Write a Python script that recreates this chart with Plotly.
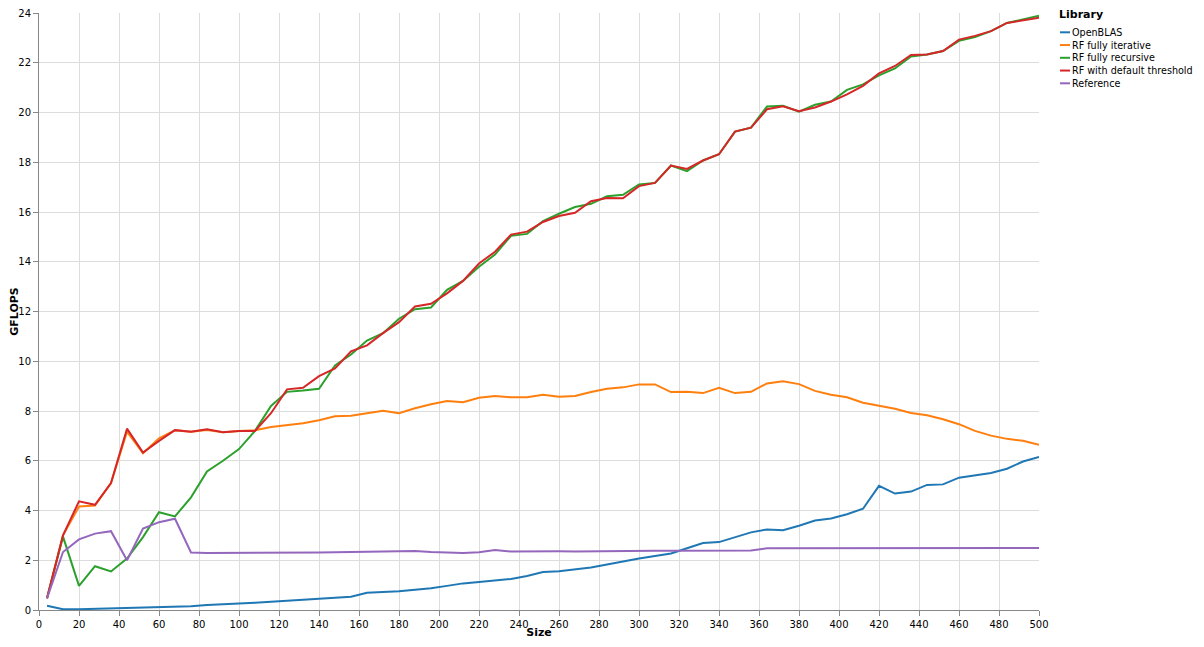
import plotly.graph_objects as go

# matrix sizes (x axis)
sizes = list(range(4, 501, 8))

openblas = [0.17, 0.03, 0.03, 0.05, 0.06, 0.08, 0.10, 0.11, 0.13, 0.15, 0.20, 0.22, 0.25,
            0.29, 0.33, 0.37, 0.40, 0.44, 0.48, 0.53, 0.69, 0.71, 0.75, 0.81, 0.87, 0.97,
            1.07, 1.13, 1.20, 1.25, 1.37, 1.53, 1.56, 1.64, 1.71, 1.83, 1.96, 2.07, 2.17,
            2.27, 2.48, 2.69, 2.73, 2.92, 3.12, 3.24, 3.21, 3.39, 3.60, 3.68, 3.85, 4.07,
            4.99, 4.68, 4.76, 5.03, 5.05, 5.32, 5.41, 5.51, 5.68, 5.97, 6.15]

rf_iterative = [0.47, 3.00, 4.16, 4.20, 5.10, 7.17, 6.30, 6.90, 7.23, 7.17, 7.24, 7.15, 7.20,
                7.23, 7.36, 7.44, 7.51, 7.63, 7.79, 7.81, 7.91, 8.01, 7.91, 8.11, 8.27, 8.40,
                8.35, 8.53, 8.60, 8.55, 8.55, 8.65, 8.57, 8.60, 8.76, 8.89, 8.95, 9.07, 9.07,
                8.76, 8.77, 8.72, 8.93, 8.72, 8.77, 9.11, 9.20, 9.08, 8.81, 8.65, 8.55, 8.33,
                8.21, 8.09, 7.92, 7.83, 7.67, 7.47, 7.20, 7.01, 6.88, 6.80, 6.64]

rf_recursive = [0.47, 2.95, 0.97, 1.76, 1.55, 2.07, 2.93, 3.93, 3.76, 4.53, 5.57, 6.00, 6.47,
                7.20, 8.20, 8.77, 8.82, 8.89, 9.83, 10.27, 10.83, 11.13, 11.71, 12.09, 12.16,
                12.87, 13.23, 13.80, 14.29, 15.04, 15.12, 15.63, 15.93, 16.20, 16.33, 16.63,
                16.69, 17.11, 17.17, 17.87, 17.64, 18.07, 18.32, 19.23, 19.39, 20.24, 20.27,
                20.03, 20.31, 20.44, 20.91, 21.13, 21.49, 21.77, 22.25, 22.33, 22.47, 22.88,
                23.03, 23.27, 23.60, 23.75, 23.89]

rf_default = [0.47, 3.00, 4.37, 4.23, 5.10, 7.29, 6.33, 6.80, 7.23, 7.17, 7.27, 7.15, 7.20,
              7.20, 7.91, 8.87, 8.93, 9.40, 9.71, 10.40, 10.64, 11.13, 11.57, 12.20, 12.31,
              12.73, 13.23, 13.93, 14.40, 15.09, 15.21, 15.60, 15.84, 15.97, 16.43, 16.56,
              16.55, 17.04, 17.17, 17.87, 17.73, 18.07, 18.32, 19.23, 19.39, 20.13, 20.25,
              20.05, 20.20, 20.44, 20.73, 21.07, 21.57, 21.87, 22.31, 22.33, 22.47, 22.93,
              23.08, 23.27, 23.60, 23.72, 23.81]

reference = [0.47, 2.33, 2.84, 3.07, 3.17, 2.00, 3.27, 3.53, 3.67, 2.31, 2.29, 2.29, 2.28,
             2.29, 2.30, 2.30, 2.31, 2.31, 2.32, 2.32, 2.33, 2.35, 2.36, 2.37, 2.33, 2.32,
             2.29, 2.32, 2.41, 2.35, 2.36, 2.37, 2.36, 2.35, 2.36, 2.37, 2.37, 2.38, 2.38,
             2.38, 2.38, 2.38, 2.39, 2.39, 2.39, 2.48, 2.48, 2.49, 2.49, 2.49, 2.49, 2.50,
             2.50, 2.50, 2.51, 2.50, 2.50, 2.50, 2.50, 2.50, 2.51, 2.51, 2.49]

series = [
    ('OpenBLAS', openblas, '#1f77b4'),
    ('RF fully iterative', rf_iterative, '#ff7f0e'),
    ('RF fully recursive', rf_recursive, '#2ca02c'),
    ('RF with default threshold', rf_default, '#d62728'),
    ('Reference', reference, '#9467bd'),
]

# the page body adds an 8px margin, so the figure is laid out with that offset
# (height kept small enough that the page does not get a scrollbar)
OFF = 8
W, H = 1196, 631
L, T = 31, 5
plot_w, plot_h = 1000, 597
R = W - L - plot_w
B = H - T - plot_h


def px(x):
    # page pixel -> paper x
    return (x - OFF - L) / plot_w


def py(y):
    # page pixel -> paper y
    return (T + plot_h - (y - OFF)) / plot_h


fig = go.Figure()

for name, values, color in series:
    fig.add_trace(go.Scatter(
        x=sizes,
        y=values,
        mode='lines',
        name=name,
        line=dict(color=color, width=2),
        showlegend=False,
    ))

# compact legend in the style of the original (vega-like)
fig.add_annotation(
    text='<b>Library</b>', xref='paper', yref='paper',
    x=px(1057), y=py(15), xanchor='left', yanchor='middle',
    showarrow=False, font=dict(size=11, color='#000000'),
)
for i, (name, values, color) in enumerate(series):
    y = 32.3 + i * 12.75
    fig.add_shape(
        type='line', xref='paper', yref='paper',
        x0=px(1060), x1=px(1070), y0=py(y), y1=py(y),
        line=dict(color=color, width=2),
    )
    fig.add_annotation(
        text=name, xref='paper', yref='paper',
        x=px(1070), y=py(y), xanchor='left', yanchor='middle',
        showarrow=False, font=dict(size=9.6, color='#000000'),
    )

axis_style = dict(
    showgrid=True,
    gridcolor='#dddddd',
    gridwidth=1,
    zeroline=False,
    showline=True,
    linecolor='#888888',
    linewidth=1,
    ticks='outside',
    ticklen=5,
    tickcolor='#888888',
    tickfont=dict(size=10, color='#000000'),
    ticklabeloverflow='allow',
    automargin=False,
)

fig.update_layout(
    width=W,
    height=H,
    margin=dict(l=L, r=R, t=T, b=B, autoexpand=False),
    paper_bgcolor='white',
    plot_bgcolor='white',
    showlegend=False,
    font=dict(family='DejaVu Sans, sans-serif', size=11, color='#000000'),
    xaxis=dict(
        range=[0, 500],
        dtick=20,
        title=dict(text='<b>Size</b>', font=dict(size=11), standoff=9),
        **axis_style
    ),
    yaxis=dict(
        range=[0, 24],
        dtick=2,
        title=dict(text='<b>GFLOPS</b>', font=dict(size=11), standoff=9),
        **axis_style
    ),
)

fig.write_html('out.html')
